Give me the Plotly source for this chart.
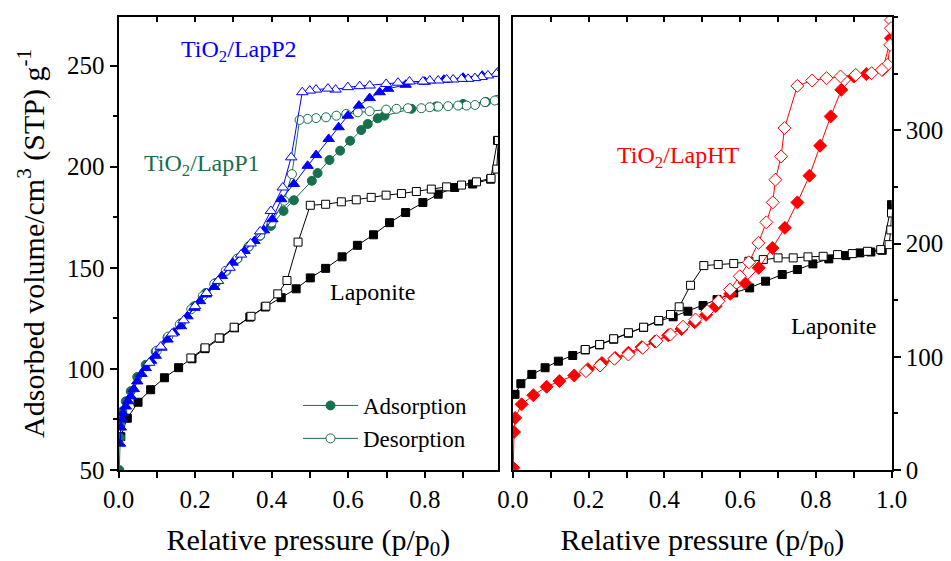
import plotly.graph_objects as go

# ---------------- data ----------------
# Left panel: Laponite
lapL_ads_x = [0.006,0.023,0.051,0.084,0.120,0.157,0.192,0.226,0.265,0.303,0.343,0.383,0.425,0.464,0.501,0.541,0.584,0.624,0.666,0.708,0.750,0.795,0.835,0.878,0.925,0.972,0.990]
lapL_ads_y = [66.5,75.6,83.5,89.7,95.6,100.6,105.0,110.0,115.2,120.3,125.6,130.6,135.2,139.6,145.0,149.7,155.4,161.1,166.3,172.3,177.3,182.3,186.4,189.7,191.4,193.8,213.0]
lapL_des_x = [0.992,0.988,0.973,0.935,0.896,0.857,0.817,0.778,0.739,0.699,0.660,0.621,0.582,0.541,0.501,0.469,0.440,0.416,0.385,0.346,0.302,0.263,0.226,0.189]
lapL_des_y = [212.9,198.8,194.2,192.5,190.9,190.0,188.9,187.7,186.7,185.9,184.8,183.6,182.6,181.4,180.9,162.7,143.7,137.1,131.0,126.0,120.6,115.3,110.4,105.4]

# Left panel: TiO2/LapP1
p1_ads_x = [0.002,0.004,0.006,0.010,0.019,0.032,0.049,0.071,0.097,0.128,0.163,0.198,0.228,0.254,0.282,0.311,0.340,0.370,0.398,0.431,0.458,0.505,0.520,0.551,0.579,0.605,0.634,0.651,0.677,0.695,0.765,0.830,0.900,0.960,0.990]
p1_ads_y = [50,66,74,79,84,89,96,102,108.5,115.5,122.5,131,137.5,142.5,148.5,154.5,160.5,165.8,170.7,178.1,183.4,193.0,196.8,203.3,207.9,212.8,218.1,221.1,223.9,225.2,228.6,229.8,231,232,233]
p1_des_x = [0.990,0.983,0.957,0.931,0.909,0.887,0.861,0.835,0.813,0.791,0.756,0.726,0.699,0.656,0.625,0.595,0.569,0.542,0.516,0.494,0.473,0.453,0.433,0.400,0.370,0.340,0.310,0.280,0.250,0.220,0.190,0.160,0.130,0.100]
p1_des_y = [233,232.7,231.9,230.5,230.2,230.2,229.9,229.7,229.4,228.9,228.9,228.6,228.2,227.4,226.9,226.1,225.2,224.4,224.0,223.6,223.1,196.3,183.1,172.4,166.0,160.5,154.5,148.5,142.0,136.0,129.5,122.0,116.0,109.0]

# Left panel: TiO2/LapP2
p2_ads_x = [0.004,0.006,0.008,0.012,0.019,0.025,0.032,0.040,0.049,0.060,0.071,0.085,0.097,0.112,0.128,0.145,0.163,0.180,0.198,0.213,0.228,0.250,0.270,0.298,0.329,0.355,0.380,0.402,0.425,0.458,0.494,0.516,0.549,0.575,0.599,0.628,0.656,0.682,0.704,0.750,0.800,0.850,0.900,0.950,0.990]
p2_ads_y = [63,71,75,78,81.4,84,86.4,90,93.8,97.5,100.4,104,106.5,110.5,114.5,118,121.1,126,130.2,133.5,136.8,140.5,145.9,152.5,158.3,163.2,168.5,174,183.9,191.4,200.4,205.7,213.7,219.5,225.2,230.2,233.9,236.8,238.5,240.5,242,243,244,245,246]
p2_des_x = [0.990,0.987,0.965,0.948,0.931,0.913,0.896,0.874,0.857,0.835,0.813,0.795,0.760,0.730,0.699,0.656,0.630,0.599,0.567,0.547,0.516,0.4995,0.480,0.451,0.429,0.398,0.370,0.345,0.320,0.290,0.260,0.230,0.200,0.170,0.140,0.110,0.080]
p2_des_y = [246.5,245.9,245.1,244.3,243.8,243.4,243.4,243.1,243.1,242.6,242.6,242.1,242.1,241.5,240.9,240.1,239.8,239.3,238.1,238.6,238.1,237.6,236.8,204.6,189.7,178.1,168.0,162.0,156.5,150.0,143.5,137.5,131.0,124.0,117.5,111.0,103.0]

# Right panel: Laponite
lapR_ads_x = [0.0056,0.021,0.050,0.085,0.120,0.158,0.191,0.229,0.266,0.305,0.345,0.385,0.423,0.462,0.502,0.539,0.583,0.625,0.667,0.711,0.751,0.792,0.834,0.879,0.916,0.945,0.975,0.9995]
lapR_ads_y = [66.8,76.2,84.4,90.3,96.1,101.1,106.0,110.5,115.5,120.8,125.8,131.5,135.3,140.2,145.2,150.5,156.4,160.8,166.7,172.6,177.0,182.0,186.4,189.3,191.7,192.5,194.0,234.3]
lapR_des_x = [0.9995,0.9976,0.993,0.971,0.936,0.896,0.857,0.819,0.779,0.740,0.700,0.661,0.623,0.583,0.542,0.504,0.469,0.439,0.416,0.385,0.345,0.305,0.266,0.229,0.191]
lapR_des_y = [227,212,199,194.6,193.1,191.1,190.2,188.7,188.2,187.3,187.3,185.8,184.3,182.3,181.4,180.5,163.1,144.1,137.3,132.0,126.1,121.2,115.9,110.8,106.4]

# Right panel: TiO2/LapHT
ht_ads_x = [0.001,0.003,0.006,0.023,0.054,0.089,0.123,0.162,0.198,0.235,0.270,0.305,0.340,0.375,0.410,0.445,0.480,0.510,0.535,0.574,0.612,0.649,0.685,0.718,0.751,0.783,0.811,0.839,0.867,0.900,0.933,0.976,0.998]
ht_ads_y = [2,33.5,46,58,66,73.5,78.5,83.5,89,94.5,99,103.5,108.5,113.5,119,124.5,130.5,137,144.6,155.6,165.3,178.5,196,213.8,236.3,259.9,286.3,312.2,335.7,347.4,349.6,353.4,381.3]
ht_des_x = [0.998,0.998,0.996,0.989,0.974,0.947,0.905,0.865,0.828,0.790,0.751,0.717,0.708,0.693,0.686,0.669,0.648,0.623,0.599,0.573,0.543,0.513,0.482,0.449,0.416,0.379,0.343,0.305,0.268,0.230,0.193]
ht_des_y = [397.4,390.1,375.4,357.8,353.3,350.4,348.9,347.5,346.0,343.9,339.2,301.9,276.9,256.3,236.3,218.7,200.5,183.4,171.1,159.3,149.0,140.2,132.9,126.5,119.7,113.8,107.9,102.0,98.2,92.3,87.3]

left_ytick_vals = [50, 100, 150, 200, 250]
right_ytick_vals = [0, 100, 200, 300]
left_xtick_vals = [0.0, 0.2, 0.4, 0.6, 0.8]
right_xtick_vals = [0.0, 0.2, 0.4, 0.6, 0.8, 1.0]

# ---------------- styling ----------------
FONT = "Liberation Serif, 'Times New Roman', Times, serif"
GREEN = "#17704d"
BLUE = "#0000ff"
RED = "#ff0000"
BLACK = "#000000"

fig = go.Figure()

def add(x, y, color, symbol, filled, size, xa, ya, name=None, legend=False):
    fig.add_trace(go.Scatter(
        x=x, y=y, mode="lines+markers", xaxis=xa, yaxis=ya,
        line=dict(color=color, width=1),
        marker=dict(symbol=symbol, size=size,
                    color=color if filled else "white",
                    line=dict(color=color, width=1)),
        name=name, showlegend=legend, hoverinfo="skip"))

# left panel
add(lapL_ads_x, lapL_ads_y, BLACK, "square", True, 8, "x", "y")
add(lapL_des_x, lapL_des_y, BLACK, "square", False, 8, "x", "y")
add(p1_ads_x, p1_ads_y, GREEN, "circle", True, 9, "x", "y", "Adsorption", True)
add(p1_des_x, p1_des_y, GREEN, "circle", False, 9, "x", "y", "Desorption", True)
add(p2_ads_x, p2_ads_y, BLUE, "triangle-up", True, 10, "x", "y")
add(p2_des_x, p2_des_y, BLUE, "triangle-up", False, 10, "x", "y")
# right panel
add(lapR_ads_x, lapR_ads_y, BLACK, "square", True, 8, "x2", "y2")
add(lapR_des_x, lapR_des_y, BLACK, "square", False, 8, "x2", "y2")
add(ht_ads_x, ht_ads_y, RED, "diamond", True, 10, "x2", "y2")
add(ht_des_x, ht_des_y, RED, "diamond", False, 10, "x2", "y2")

# empty traces so the top (inward tick) axes are drawn
fig.add_trace(go.Scatter(x=[None], y=[None], xaxis="x3", yaxis="y", showlegend=False, hoverinfo="skip"))
fig.add_trace(go.Scatter(x=[None], y=[None], xaxis="x4", yaxis="y2", showlegend=False, hoverinfo="skip"))

# page has an 8px body margin: figure is drawn 8px right/down of the page origin
OFF = 8
W, H = 951 - OFF, 561 - OFF
def px_x(p):
    return (p - OFF) / W
def px_y(p):
    return (H - (p - OFF)) / H

xl = [px_x(118.5), px_x(498.3)]
xr = [px_x(512.9), px_x(891.7)]
yd = [px_y(470), px_y(17)]

tickfont = dict(family=FONT, size=25, color="black")
titlefont = dict(family=FONT, size=30, color="black")

common_axis = dict(showgrid=False, zeroline=False, showline=True, linecolor="black",
                   linewidth=2, mirror=True, tickcolor="black", tickwidth=1.5,
                   tickfont=tickfont, automargin=False)

fig.update_layout(
    width=W, height=H, margin=dict(l=0, r=0, t=0, b=0, autoexpand=False),
    paper_bgcolor="white", plot_bgcolor="white",
    font=dict(family=FONT, color="black"),
    xaxis=dict(domain=xl, anchor="y", range=[0, 0.992], tickvals=left_xtick_vals,
               ticktext=[f"{v:.1f}" for v in left_xtick_vals], ticks="outside", ticklen=6,
               minor=dict(ticks="outside", dtick=0.1, tick0=0, ticklen=6, tickcolor="black", tickwidth=1.5),
               title=dict(text="Relative pressure (p/p<sub>0</sub>)", font=titlefont, standoff=26),
               **common_axis),
    yaxis=dict(domain=yd, anchor="x", range=[50, 274], tickvals=left_ytick_vals,
               ticks="outside", ticklen=7,
               minor=dict(ticks="outside", dtick=25, tick0=50, ticklen=4, tickcolor="black", tickwidth=1.5),
               title=dict(text="Adsorbed volume/cm<sup>3</sup> (STP) g<sup>-1</sup>", font=titlefont, standoff=14),
               **common_axis),
    xaxis2=dict(domain=xr, anchor="y2", range=[0, 1.0], tickvals=right_xtick_vals,
                ticktext=[f"{v:.1f}" for v in right_xtick_vals], ticks="outside", ticklen=6,
                minor=dict(ticks="outside", dtick=0.1, tick0=0, ticklen=6, tickcolor="black", tickwidth=1.5),
                title=dict(text="Relative pressure (p/p<sub>0</sub>)", font=titlefont, standoff=26),
                **common_axis),
    yaxis2=dict(domain=yd, anchor="x2", side="right", range=[0, 400], tickvals=right_ytick_vals,
                ticks="outside", ticklen=7,
                minor=dict(ticks="outside", dtick=50, tick0=0, ticklen=4, tickcolor="black", tickwidth=1.5),
                **common_axis),
    xaxis3=dict(overlaying="x", anchor="y", side="top", range=[0, 0.992], dtick=0.1, tick0=0,
                ticks="inside", ticklen=5, tickwidth=1.5, tickcolor="black", showticklabels=False,
                showline=False, showgrid=False, zeroline=False, automargin=False),
    xaxis4=dict(overlaying="x2", anchor="y2", side="top", range=[0, 1.0], dtick=0.1, tick0=0,
                ticks="inside", ticklen=5, tickwidth=1.5, tickcolor="black", showticklabels=False,
                showline=False, showgrid=False, zeroline=False, automargin=False),
    legend=dict(x=px_x(298), y=px_y(384), xanchor="left", yanchor="top",
                bgcolor="rgba(0,0,0,0)", font=dict(family=FONT, size=23, color="black"),
                itemwidth=55, tracegroupgap=0),
    showlegend=True,
)

ann_font = lambda c: dict(family=FONT, size=24, color=c)
annotations = [
    dict(text="TiO<sub>2</sub>/LapP2", x=0.315, y=257, xref="x", yref="y", font=ann_font(BLUE)),
    dict(text="TiO<sub>2</sub>/LapP1", x=0.218, y=201, xref="x", yref="y", font=ann_font(GREEN)),
    dict(text="Laponite", x=0.664, y=138, xref="x", yref="y", font=ann_font(BLACK)),
    dict(text="TiO<sub>2</sub>/LapHT", x=0.437, y=276, xref="x2", yref="y2", font=ann_font(RED)),
    dict(text="Laponite", x=0.8455, y=127, xref="x2", yref="y2", font=ann_font(BLACK)),
]
for a in annotations:
    fig.add_annotation(showarrow=False, xanchor="center", yanchor="middle", **a)

fig.write_html("out.html")
